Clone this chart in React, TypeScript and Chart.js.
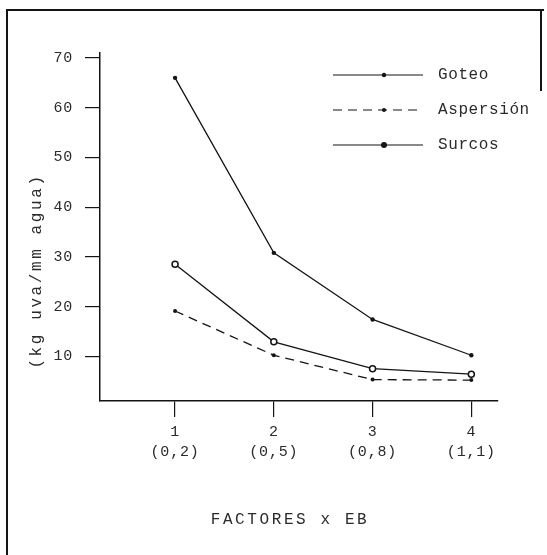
import { useEffect, useRef } from 'react'
import { Chart, registerables } from 'chart.js'

Chart.register(...registerables)

// ── DATOS ───────────────────────────────────────────────────────────────────
const factores  = [1, 2, 3, 4]
const ebLabels  = ['(0,2)', '(0,5)', '(0,8)', '(1,1)']
const goteo     = [66, 30.8, 17.4, 10.2]
const aspersion = [19.1, 10.2, 5.3, 5.2]
const surcos    = [28.5, 12.9, 7.5, 6.4]
const yTicks    = [10, 20, 30, 40, 50, 60, 70]

const yTitle = '(kg uva/mm agua)'
const xTitle = 'FACTORES x EB'

const INK  = '#141414'
const TEXT = '#2b2b2b'
const MONO = '"Liberation Mono", "DejaVu Sans Mono", monospace'

// titulos de ejes y leyenda dentro del area, como en el original escaneado
const paperPlugin = {
  id: 'paper',
  beforeDraw(chart: Chart) {
    (chart.ctx as any).letterSpacing = '0.8px'
  },
  afterDraw(chart: Chart) {
    const ctx = chart.ctx as any
    ctx.save()
    ctx.fillStyle = TEXT
    ctx.strokeStyle = INK
    ctx.textBaseline = 'middle'

    // titulos
    ctx.font = `16px ${MONO}`
    ctx.letterSpacing = '2.6px'
    ctx.textAlign = 'center'
    ctx.fillText(xTitle, 290, 520)
    ctx.save()
    ctx.translate(37, 271)
    ctx.rotate(-Math.PI / 2)
    ctx.fillText(yTitle, 0, 0)
    ctx.restore()

    // leyenda
    ctx.font = `16px ${MONO}`
    ctx.letterSpacing = '0.6px'
    ctx.textAlign = 'left'
    chart.data.datasets.forEach((ds: any, i: number) => {
      const y = 75 + i * 35
      ctx.lineWidth = 1.2
      ctx.setLineDash(ds.borderDash ?? [])
      ctx.beginPath(); ctx.moveTo(333, y); ctx.lineTo(423, y); ctx.stroke()
      ctx.setLineDash([])
      ctx.fillStyle = INK
      ctx.beginPath(); ctx.arc(384, y, ds.pointRadius, 0, Math.PI * 2); ctx.fill()
      ctx.fillStyle = TEXT
      ctx.fillText(ds.label, 438, y)
    })
    ctx.restore()
  },
}

function EficienciaChart() {
  const ref   = useRef<HTMLCanvasElement>(null)
  const chart = useRef<Chart | null>(null)

  useEffect(() => {
    if (!ref.current) return
    chart.current?.destroy()
    const pts = (arr: number[]) => arr.map((y, i) => ({ x: factores[i], y }))
    chart.current = new Chart(ref.current, {
      type: 'line',
      data: {
        datasets: [
          { label: 'Goteo', data: pts(goteo), borderColor: INK, borderWidth: 1.3, tension: 0,
            pointRadius: 2.2, pointBackgroundColor: INK, pointBorderWidth: 0 },
          { label: 'Aspersión', data: pts(aspersion), borderColor: INK, borderWidth: 1.3, tension: 0,
            borderDash: [9, 6], pointRadius: 2, pointBackgroundColor: INK, pointBorderWidth: 0 },
          { label: 'Surcos', data: pts(surcos), borderColor: INK, borderWidth: 1.3, tension: 0,
            pointRadius: 3, pointBackgroundColor: '#fff', pointBorderColor: INK, pointBorderWidth: 1.5 },
        ],
      },
      options: {
        animation: false, responsive: true, maintainAspectRatio: false,
        layout: { padding: { top: 53, right: 49, bottom: 0, left: 0 } },
        plugins: { legend: { display: false }, tooltip: { enabled: false } },
        scales: {
          x: {
            type: 'linear', min: 0.24, max: 4.27,
            afterBuildTicks: (s: any) => { s.ticks = factores.map(v => ({ value: v })) },
            afterFit: (s: any) => { s.height = 154 },
            border: { color: INK, width: 1.5 },
            grid: { drawOnChartArea: false, color: INK, lineWidth: 1.2, tickLength: 16 },
            ticks: {
              autoSkip: false, maxRotation: 0, padding: 6, color: TEXT,
              font: { family: MONO, size: 15, lineHeight: 1.27 },
              callback: (v: any) => [String(v), ebLabels[factores.indexOf(+v)]],
            },
          },
          y: {
            min: 1, max: 71,
            afterBuildTicks: (s: any) => { s.ticks = yTicks.map(v => ({ value: v })) },
            afterFit: (s: any) => { s.width = 100 },
            border: { color: INK, width: 1.5 },
            grid: { drawOnChartArea: false, color: INK, lineWidth: 1.2, tickLength: 15 },
            ticks: { padding: 12, color: TEXT, font: { family: MONO, size: 15 } },
          },
        },
      },
      plugins: [paperPlugin],
    } as any)
    return () => { chart.current?.destroy() }
  }, [])

  return <canvas ref={ref} />
}

export default function App() {
  return (
    <div style={{ position: 'relative', width: 547, height: 555, background: '#fff', overflow: 'hidden' }}>
      <style>{'body{margin:0}'}</style>
      {/* marco del original */}
      <div style={{ position: 'absolute', left: 6, top: 9, width: 536, height: 600,
        borderTop: `2px solid ${INK}`, borderLeft: `2px solid ${INK}` }} />
      <div style={{ position: 'absolute', left: 540, top: 9, width: 2, height: 82, background: INK }} />
      <div style={{ position: 'absolute', inset: 0 }}>
        <EficienciaChart />
      </div>
    </div>
  )
}
